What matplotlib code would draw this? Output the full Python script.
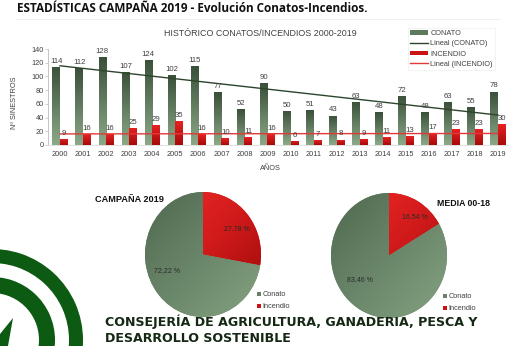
import numpy as np
import matplotlib
matplotlib.use("Agg")
import matplotlib.pyplot as plt
from matplotlib.colors import LinearSegmentedColormap
from matplotlib.patches import Rectangle, Wedge, Polygon, Patch
from matplotlib.lines import Line2D

plt.rcParams['font.family'] = ['Liberation Sans', 'DejaVu Sans']

# ---------------- data ----------------
years = ["2000", "2001", "2002", "2003", "2004", "2005", "2006", "2007", "2008", "2009",
         "2010", "2011", "2012", "2013", "2014", "2015", "2016", "2017", "2018", "2019"]
conato = [114, 112, 128, 107, 124, 102, 115, 77, 52, 90,
          50, 51, 43, 63, 48, 72, 48, 63, 55, 78]
incendio = [9, 16, 16, 25, 29, 35, 16, 10, 11, 16,
            6, 7, 8, 9, 11, 13, 17, 23, 23, 30]
yticks = [0, 20, 40, 60, 80, 100, 120, 140]
pie_labels = ["Conato", "Incendio"]
pie_2019 = [72.22, 27.78]
pie_media = [83.46, 16.54]

W, H = 510, 346
fig = plt.figure(figsize=(W / 100, H / 100), dpi=100)
fig.patch.set_facecolor("white")

def fx(px):
    return px / W

def fy(py):
    return 1 - py / H

green_v = LinearSegmentedColormap.from_list("gv", ["#8ba987", "#3a503a"])
red_v = LinearSegmentedColormap.from_list("rv", ["#a60a0a", "#e82222"])
green_d = LinearSegmentedColormap.from_list("gd", ["#4f684f", "#6a866a", "#84a281"])
red_d = LinearSegmentedColormap.from_list("rd", ["#f42a2a", "#d01a1a", "#980808"])

# ---------------- bar chart ----------------
ax = fig.add_axes([fx(48.5), fy(145), 461 / W, 96 / H])
x = np.arange(len(years))
w = 0.33
bars_c = ax.bar(x - w / 2, conato, w, color="#5d7a5d", zorder=2, linewidth=0)
bars_i = ax.bar(x + w / 2, incendio, w, color="#c81414", zorder=2, linewidth=0)
grad = np.linspace(0, 1, 64).reshape(-1, 1)
for bars, cmap in ((bars_c, green_v), (bars_i, red_v)):
    for r in bars:
        x0, y0 = r.get_xy()
        im = ax.imshow(grad, extent=[x0, x0 + r.get_width(), y0, y0 + r.get_height()],
                       origin="lower", aspect="auto", cmap=cmap, zorder=2.1)
        im.set_clip_path(r)

pc = np.polyfit(x, conato, 1)
pi = np.polyfit(x, incendio, 1)
ax.plot(x, np.polyval(pc, x), color="#2c452c", lw=1.0, zorder=3)
ax.plot(x, np.polyval(pi, x), color="#e23838", lw=1.0, zorder=3)

for xi, v in zip(x, conato):
    ax.annotate(str(v), (xi - w / 2, v), xytext=(0, 1.5), textcoords="offset points",
                ha="center", va="bottom", fontsize=5.6, color="#404040", zorder=4)
for xi, v in zip(x, incendio):
    ax.annotate(str(v), (xi + w / 2, v), xytext=(0, 1.5), textcoords="offset points",
                ha="center", va="bottom", fontsize=5.6, color="#404040", zorder=4)

ax.set_xlim(-0.5, len(years) - 0.5)
ax.set_ylim(0, 140)
ax.set_aspect("auto")
ax.set_xticks(x)
ax.set_xticklabels(years, fontsize=5.3, color="#404040")
ax.set_yticks(yticks)
ax.set_yticklabels([str(t) for t in yticks], fontsize=5.3, color="#404040")
ax.tick_params(axis="x", length=0, pad=4)
ax.tick_params(axis="y", length=2, width=0.5, color="#bbbbbb", pad=1.5)
for s in ("top", "right"):
    ax.spines[s].set_visible(False)
ax.spines["left"].set_color("#bbbbbb")
ax.spines["left"].set_linewidth(0.6)
ax.spines["bottom"].set_color("#dddddd")
ax.spines["bottom"].set_linewidth(0.6)
ax.patch.set_visible(False)

fig.text(fx(260), fy(34), "HISTÓRICO CONATOS/INCENDIOS 2000-2019", ha="center", va="center",
         fontsize=6.4, color="#404040")
fig.text(fx(15), fy(103), "Nº SINESTROS", rotation=90, ha="center", va="center",
         fontsize=5.3, color="#404040")
fig.text(fx(270), fy(169), "AÑOS", ha="center", va="center", fontsize=5.3, color="#404040")

handles = [Patch(facecolor="#5d7a5d", edgecolor="none"),
           Line2D([0], [0], color="#2c452c", lw=1.0),
           Patch(facecolor="#c81414", edgecolor="none"),
           Line2D([0], [0], color="#e23838", lw=1.0)]
leg = fig.legend(handles, ["CONATO", "Lineal (CONATO)", "INCENDIO", "Lineal (INCENDIO)"],
                 loc="upper left", bbox_to_anchor=(fx(404), fy(24)), fontsize=5.3,
                 frameon=True, handlelength=2.4, handleheight=0.6, labelspacing=0.45,
                 handletextpad=0.4, borderpad=0.3, fancybox=False)
leg.get_frame().set_edgecolor("#eeeeee")
leg.get_frame().set_linewidth(0.6)
for t in leg.get_texts():
    t.set_color("#404040")

# ---------------- pies ----------------
def gradient_pie(rect, vals, label_pos):
    pax = fig.add_axes(rect)
    ordered = [vals[1], vals[0]]
    wedges, _ = pax.pie(ordered, startangle=90, counterclock=False,
                        colors=["#c81414", "#6a866a"], radius=1,
                        wedgeprops=dict(linewidth=0))
    gx, gy = np.meshgrid(np.linspace(0, 1, 120), np.linspace(0, 1, 120))
    g = (gx + gy) / 2
    for wdg, cmap in zip(wedges, (red_d, green_d)):
        im = pax.imshow(g, extent=[-1, 1, -1, 1], origin="upper", cmap=cmap,
                        aspect="auto", zorder=wdg.get_zorder() + 0.1)
        im.set_clip_path(wdg)
    pax.set_xlim(-1, 1)
    pax.set_ylim(-1, 1)
    pax.set_aspect("auto")
    pax.axis("off")
    for v, (lx, ly) in zip(ordered, label_pos):
        pax.text(lx, ly, f"{v:.2f}".replace(".", ",") + " %", ha="center", va="center",
                 fontsize=5.0, color="#2a2a2a", zorder=10)
    return pax

gradient_pie([fx(145), fy(317), 116 / W, 125 / H], pie_2019,
             [(0.58, 0.42), (-0.62, -0.26)])
gradient_pie([fx(331), fy(318), 116 / W, 125 / H], pie_media,
             [(0.45, 0.62), (-0.5, -0.39)])

# ---------------- overlay (texts, logo, mini legends) ----------------
ov = fig.add_axes([0, 0, 1, 1], zorder=20)
ov.set_xlim(0, W)
ov.set_ylim(H, 0)
ov.axis("off")
ov.patch.set_visible(False)

ov.text(17, 8, "ESTADÍSTICAS CAMPAÑA 2019 - Evolución Conatos-Incendios.", ha="left",
        va="center", fontsize=8.5, fontweight="bold", color="#111111",
        family=["Open Sans", "DejaVu Sans"])
ov.plot([15, 500], [18.5, 18.5], color="#eeeeee", lw=0.6)

ov.text(95, 199, "CAMPAÑA 2019", ha="left", va="center", fontsize=6.6,
        fontweight="bold", color="#111111")
ov.text(437, 203, "MEDIA 00-18", ha="left", va="center", fontsize=6.3,
        fontweight="bold", color="#111111")

for lx, ly in ((257, 294), (443, 296)):
    for k, (lab, col) in enumerate(zip(pie_labels, ["#6b806b", "#cc1111"])):
        yy = ly + k * 12
        ov.add_patch(Rectangle((lx, yy - 1.8), 3.6, 3.6, facecolor=col, edgecolor="none"))
        ov.text(lx + 5.5, yy, lab, ha="left", va="center", fontsize=5.3, color="#404040")

ov.text(105, 322, "CONSEJERÍA DE AGRICULTURA, GANADERIA, PESCA Y", ha="left", va="center",
        fontsize=9.1, fontweight="bold", color="#142814", family=["DejaVu Sans"])
ov.text(105, 338, "DESARROLLO SOSTENIBLE", ha="left", va="center",
        fontsize=9.1, fontweight="bold", color="#142814", family=["DejaVu Sans"])

logo = "#0d5a12"
ov.add_patch(Wedge((-8, 340), 91, -95, 95, width=14, facecolor=logo, edgecolor="none"))
ov.add_patch(Wedge((-8, 340), 63, -95, 95, width=16, facecolor=logo, edgecolor="none"))
ov.add_patch(Polygon([(0, 346), (0, 334), (13, 318), (8, 346)], closed=True,
                     facecolor=logo, edgecolor="none"))

fig.savefig("out.png", dpi=100, facecolor="white")
